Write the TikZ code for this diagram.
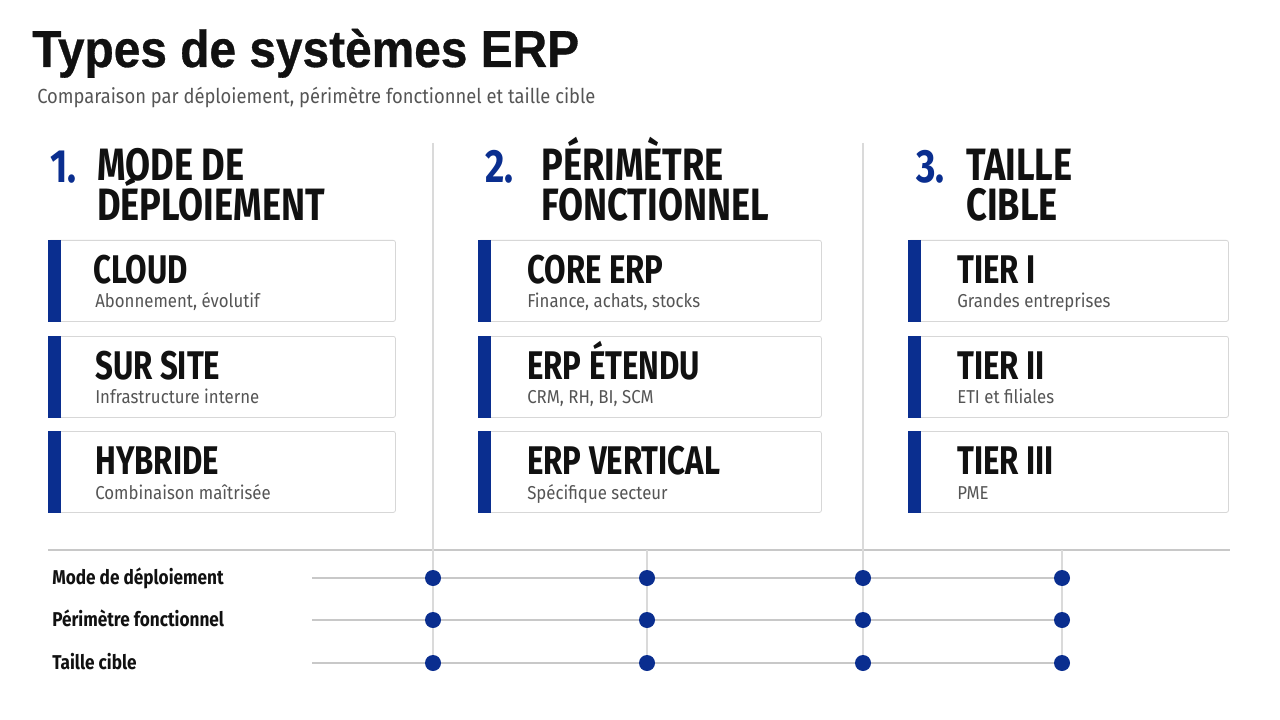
\documentclass[tikz,border=0pt]{standalone}
\usepackage{fontspec}
\setmainfont{Fira Sans}
\newfontfamily\titlefont[FakeStretch=0.92,FakeBold=0.6]{Liberation Sans}
\newfontfamily\condfont[FakeStretch=0.78]{Fira Sans}
\newfontfamily\headfont[FakeStretch=0.8]{Fira Sans}
\newfontfamily\labelfont[FakeStretch=0.86]{Fira Sans}
\newfontfamily\subfont[FakeStretch=0.9]{Fira Sans}
\definecolor{erpblue}{RGB}{10,46,143}
\definecolor{inkblack}{RGB}{17,17,17}
\definecolor{subgray}{RGB}{85,85,85}
\definecolor{linegray}{RGB}{200,200,200}
\definecolor{divgray}{RGB}{218,218,218}
\definecolor{cardgray}{RGB}{215,215,215}
\tikzset{
  txt/.style={inner sep=0pt, anchor=base west},
  maintitle/.style={txt, font=\titlefont\bfseries\fontsize{39}{44}\selectfont, text=inkblack},
  subtitle/.style={txt, font=\subfont\fontsize{15.3}{18}\selectfont, text=subgray},
  heading/.style={txt, text height=23.5pt, text depth=0pt, font=\headfont\bfseries\fontsize{34}{38}\selectfont, text=inkblack},
  headnum/.style={txt, font=\headfont\bfseries\fontsize{35}{40}\selectfont, text=erpblue},
  card/.style={draw=cardgray, line width=0.6pt, fill=white, rounded corners=1.5pt, anchor=north west, inner sep=0pt, minimum height=60.75pt},
  bar/.style={fill=erpblue},
  cardtitle/.style={txt, font=\condfont\bfseries\fontsize{30}{34}\selectfont, text=inkblack},
  cardsub/.style={txt, font=\subfont\fontsize{14}{17}\selectfont, text=subgray},
  rowlabel/.style={txt, font=\labelfont\bfseries\fontsize{15}{18}\selectfont, text=inkblack},
  gridline/.style={draw=linegray, line width=1pt},
  divline/.style={draw=divgray, line width=0.8pt},
  dot/.style={circle, fill=erpblue, inner sep=0pt, minimum size=12pt},
}
\begin{document}
\begin{tikzpicture}[x=0.75pt,y=-0.75pt]
\useasboundingbox (0,0) rectangle (1280,720);
\fill[white] (0,0) rectangle (1280,720);

% title
\node[maintitle] (title) at (32,67) {Types de systèmes ERP};
\node[subtitle] (subt) at (37,104) {Comparaison par déploiement, périmètre fonctionnel et taille cible};

% column dividers and grid coordinates
\coordinate (v1top) at (433,143);
\coordinate (v3top) at (863,143);
\coordinate (v2top) at (647,550);
\coordinate (v4top) at (1062,550);
\coordinate (hl) at (48,550);
\coordinate (hr) at (1230,550);
\coordinate (r1s) at (312,578);
\coordinate (r2s) at (312,620);
\coordinate (r3s) at (312,663);

% headings
\node[headnum] (n1) at (50,183) {1.};
\node[heading] (h1a) at (97,181) {MODE DE};
\node[heading] (h1b) at (97,221) {DÉPLOIEMENT};
\node[headnum] (n2) at (485,183) {2.};
\node[heading] (h2a) at (541,181) {PÉRIMÈTRE};
\node[heading] (h2b) at (541,221) {FONCTIONNEL};
\node[headnum] (n3) at (916,183) {3.};
\node[heading] (h3a) at (966,181) {TAILLE};
\node[heading] (h3b) at (966,221) {CIBLE};

% cards
\foreach \name/\x/\y/\w in {c11/48/240/260.25pt, c12/48/336/260.25pt, c13/48/431/260.25pt,
                           c21/478/240/257.25pt, c22/478/336/257.25pt, c23/478/431/257.25pt,
                           c31/908/240/240pt, c32/908/336/240pt, c33/908/431/240pt}{
  \node[card, minimum width=\w] (\name) at (\x,\y) {};
  \fill[bar] (\name.north west) rectangle ([xshift=9.5pt]\name.south west);
}

\node[cardtitle] (t11) at (93,283) {CLOUD};
\node[cardsub] (s11) at (95,307) {Abonnement, évolutif};
\node[cardtitle] (t12) at (95,379) {SUR SITE};
\node[cardsub] (s12) at (95,403) {Infrastructure interne};
\node[cardtitle] (t13) at (95,474) {HYBRIDE};
\node[cardsub] (s13) at (95,499) {Combinaison maîtrisée};

\node[cardtitle] (t21) at (527,283) {CORE ERP};
\node[cardsub] (s21) at (527,307) {Finance, achats, stocks};
\node[cardtitle] (t22) at (527,379) {ERP ÉTENDU};
\node[cardsub] (s22) at (527,403) {CRM, RH, BI, SCM};
\node[cardtitle] (t23) at (527,474) {ERP VERTICAL};
\node[cardsub] (s23) at (527,499) {Spécifique secteur};

\node[cardtitle] (t31) at (957,283) {TIER I};
\node[cardsub] (s31) at (957,307) {Grandes entreprises};
\node[cardtitle] (t32) at (957,379) {TIER II};
\node[cardsub] (s32) at (957,403) {ETI et filiales};
\node[cardtitle] (t33) at (957,474) {TIER III};
\node[cardsub] (s33) at (957,499) {PME};

% grid
\draw[gridline, line width=0.8pt] (hl) -- (hr);
\node[rowlabel] (l1) at (52,584) {Mode de déploiement};
\node[rowlabel] (l2) at (52,626) {Périmètre fonctionnel};
\node[rowlabel] (l3) at (52,669) {Taille cible};

\foreach \r/\y in {1/578,2/620,3/663}{
  \foreach \c/\x in {1/433,2/647,3/863,4/1062}{
    \coordinate (d\r\c) at (\x,\y);
  }
}
% vertical lines
\draw[divline] (v1top) -- (d31);
\draw[divline] (v3top) -- (d33);
\draw[divline] (v2top) -- (d32);
\draw[divline] (v4top) -- (d34);
% row lines
\foreach \r in {1,2,3}{
  \draw[gridline] (r\r s) -- (d\r 4);
}
% dots
\foreach \r in {1,2,3}{
  \foreach \c in {1,2,3,4}{
    \node[dot] (p\r\c) at (d\r\c) {};
  }
}
\end{tikzpicture}
\end{document}
